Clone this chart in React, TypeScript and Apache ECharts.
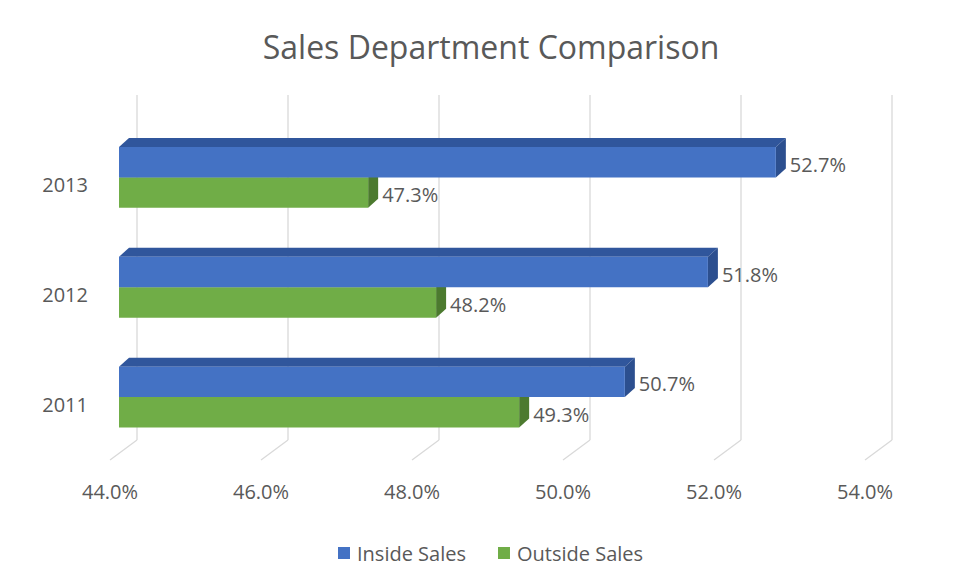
import React, { useEffect, useRef } from "react";
import * as echarts from "echarts";

const categories = ["2011", "2012", "2013"];
const insideSales = [50.7, 51.8, 52.7];
const outsideSales = [49.3, 48.2, 47.3];
const xTicks = [44, 46, 48, 50, 52, 54];
const seriesNames = ["Inside Sales", "Outside Sales"];

const FONT = "'Open Sans', 'Noto Sans', sans-serif";
const TXT = "#595959";
const AXIS_MIN = 44;
const DX = 10;
const DY = 9;
const FS = 20;

function shade(front: string, top: string, side: string) {
  return { front, top, side };
}
const BLUE = shade("#4472C4", "#30569C", "#2C4F8F");
const GREEN = shade("#70AD47", "#5A8F38", "#4C7A2F");

function barRenderer(colors: { front: string; top: string; side: string }, upper: boolean) {
  return (params: any, api: any) => {
    const v = api.value(0);
    const ci = api.value(1);
    const s = api.coord([AXIS_MIN, ci]);
    const e = api.coord([v, ci]);
    const bandH = api.size([0, 1])[1];
    const h = bandH * 0.2773;
    const cy = s[1];
    const y0 = upper ? cy - h : cy;
    const y1 = upper ? cy : cy + h;
    const x0 = s[0];
    const x1 = e[0];
    return {
      type: "group",
      children: [
        {
          type: "polygon",
          shape: { points: [[x0, y0], [x0 + DX, y0 - DY], [x1 + DX, y0 - DY], [x1, y0]] },
          style: { fill: colors.top },
        },
        {
          type: "polygon",
          shape: { points: [[x1, y0], [x1 + DX, y0 - DY], [x1 + DX, y1 - DY], [x1, y1]] },
          style: { fill: colors.side },
        },
        {
          type: "rect",
          shape: { x: x0, y: y0, width: x1 - x0, height: y1 - y0 },
          style: { fill: colors.front },
        },
        {
          type: "text",
          x: x1 + DX + 4,
          y: (y0 + y1) / 2 + 2,
          style: {
            text: v.toFixed(1) + "%",
            fill: TXT,
            font: `${FS}px ${FONT}`,
            verticalAlign: "middle",
            align: "left",
          },
        },
      ],
    };
  };
}

function gridRenderer(params: any, api: any) {
  const v = api.value(0);
  const p = api.coord([v, 0]);
  const cs = params.coordSys;
  const x = p[0] + 18;
  const top = cs.y - 27.5;
  const bottom = cs.y + cs.height - 12;
  const st = { stroke: "#D9D9D9", lineWidth: 1.3 };
  return {
    type: "group",
    children: [
      { type: "line", shape: { x1: x, y1: top, x2: x, y2: bottom }, style: st },
      { type: "line", shape: { x1: x, y1: bottom, x2: x - 27, y2: bottom + 20 }, style: st },
    ],
  };
}

export default function App() {
  const ref = useRef<HTMLDivElement>(null);
  useEffect(() => {
    if (!ref.current) return;
    const chart = echarts.init(ref.current, null, { renderer: "svg" });
    chart.setOption({
      animation: false,
      backgroundColor: "#FFFFFF",
      title: {
        text: "Sales Department Comparison",
        left: 486,
        textAlign: "center",
        top: 25,
        textStyle: { fontFamily: FONT, fontSize: 32, fontWeight: "normal", color: TXT },
      },
      legend: {
        data: seriesNames,
        left: 333,
        top: 538,
        icon: "rect",
        itemWidth: 12,
        itemHeight: 12,
        itemGap: 32,
        textStyle: { fontFamily: FONT, fontSize: FS, color: TXT, padding: [0, 0, 0, 2] },
      },
      grid: { left: 119, right: 82, top: 122.5, bottom: 125, containLabel: false },
      xAxis: {
        type: "value",
        min: 44,
        max: 54,
        interval: 2,
        splitLine: { show: false },
        axisLine: { show: false },
        axisTick: { show: false },
        axisLabel: {
          formatter: (v: number) => v.toFixed(1) + "%",
          color: TXT,
          fontFamily: FONT,
          fontSize: FS,
          margin: 29,
          padding: [0, 18, 0, 0],
        },
      },
      yAxis: {
        type: "category",
        data: categories,
        axisLine: { show: false },
        axisTick: { show: false },
        splitLine: { show: false },
        axisLabel: {
          color: TXT,
          fontFamily: FONT,
          fontSize: FS,
          margin: 31,
          verticalAlign: "top",
          lineHeight: 15,
        },
      },
      series: [
        {
          type: "custom",
          name: "grid",
          renderItem: gridRenderer,
          data: xTicks.map((v) => [v]),
          encode: { x: 0 },
          z: 1,
          silent: true,
        },
        {
          type: "custom",
          name: seriesNames[1],
          renderItem: barRenderer(GREEN, false),
          itemStyle: { color: GREEN.front },
          data: outsideSales.map((v, i) => [v, i]),
          encode: { x: 0, y: 1 },
          z: 2,
        },
        {
          type: "custom",
          name: seriesNames[0],
          renderItem: barRenderer(BLUE, true),
          itemStyle: { color: BLUE.front },
          data: insideSales.map((v, i) => [v, i]),
          encode: { x: 0, y: 1 },
          z: 3,
        },
      ],
    });
    return () => chart.dispose();
  }, []);
  return (
    <div
      ref={ref}
      style={{ position: "fixed", left: 0, top: 0, width: 956, height: 577 }}
    />
  );
}
